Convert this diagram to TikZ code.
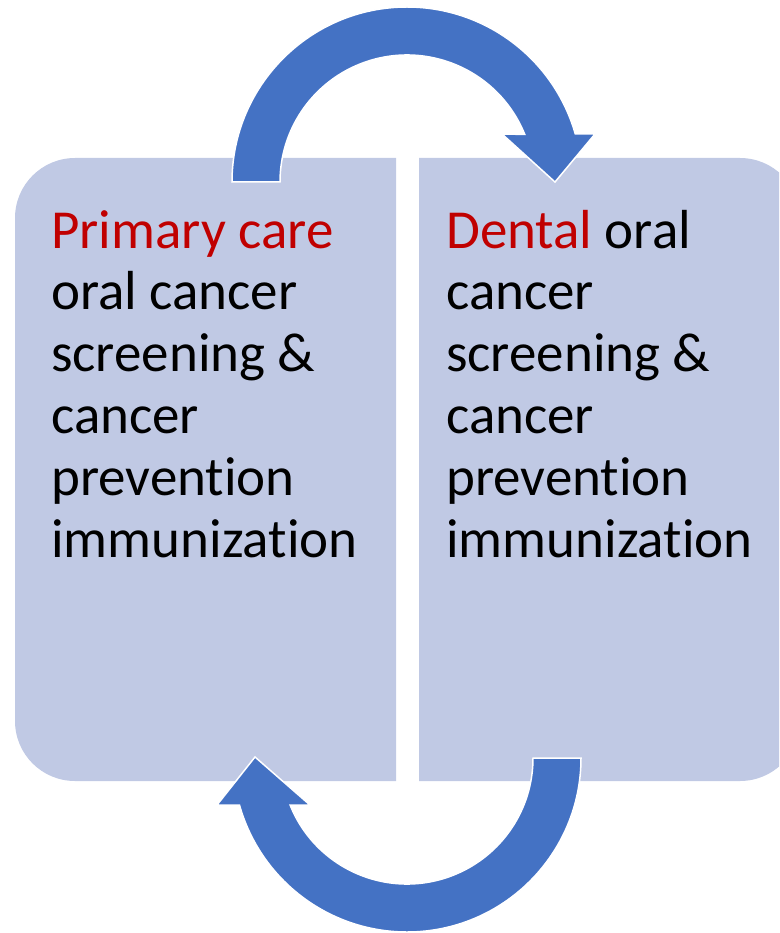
\documentclass[tikz,border=0pt]{standalone}
\usepackage{fontspec}
\setmainfont{Carlito}[Ligatures=NoCommon]
\usetikzlibrary{calc}
\definecolor{boxfill}{RGB}{192,201,228}
\definecolor{arrowblue}{RGB}{68,114,196}
\definecolor{careRed}{RGB}{192,0,0}
\begin{document}
\begin{tikzpicture}[x=1pt,y=-1pt,
  panel/.style={fill=boxfill,draw=none},
  bentarrow/.style={fill=arrowblue,draw=white,line width=1.5pt,line join=miter},
  paneltext/.style={anchor=base west,inner sep=0pt,align=left,
    font=\fontsize{55}{61.8}\selectfont}]
\useasboundingbox (0,0) rectangle (779,933);
\clip (0,0) rectangle (779,933);
% panels
\path[panel] (396,158) -- (75,158) arc[start angle=270,end angle=180,radius=60]
  -- (15,721) arc[start angle=180,end angle=90,radius=60] -- (396,781) -- cycle;
\path[panel] (419,158) -- (740,158) arc[start angle=270,end angle=360,radius=60]
  -- (800,721) arc[start angle=0,end angle=90,radius=60] -- (419,781) -- cycle;
% texts
\node[paneltext] (lefttext) at (51,557)
  {\textcolor{careRed}{Primary care}\\oral cancer\\screening \&\\cancer\\prevention\\immunization};
\node[paneltext] (righttext) at (446,557)
  {\textcolor{careRed}{Dental} oral\\cancer\\screening \&\\cancer\\prevention\\immunization};
% top arrow
\coordinate (tc) at (407,182);
\draw[bentarrow] ($(tc)+(180:175)$) arc[start angle=180,end angle=344,radius=175]
  -- (595,134) -- (555,182) -- (502,134)
  -- ($(tc)+(338:127)$) arc[start angle=338,end angle=180,radius=127] -- cycle;
% bottom arrow
\coordinate (bc) at (407,758);
\draw[bentarrow] ($(bc)+(0:174)$) arc[start angle=0,end angle=164.3,radius=174]
  -- (217,805) -- (255,757) -- (310,805)
  -- ($(bc)+(158.1:126)$) arc[start angle=158.1,end angle=0,radius=126] -- cycle;
\end{tikzpicture}
\end{document}
